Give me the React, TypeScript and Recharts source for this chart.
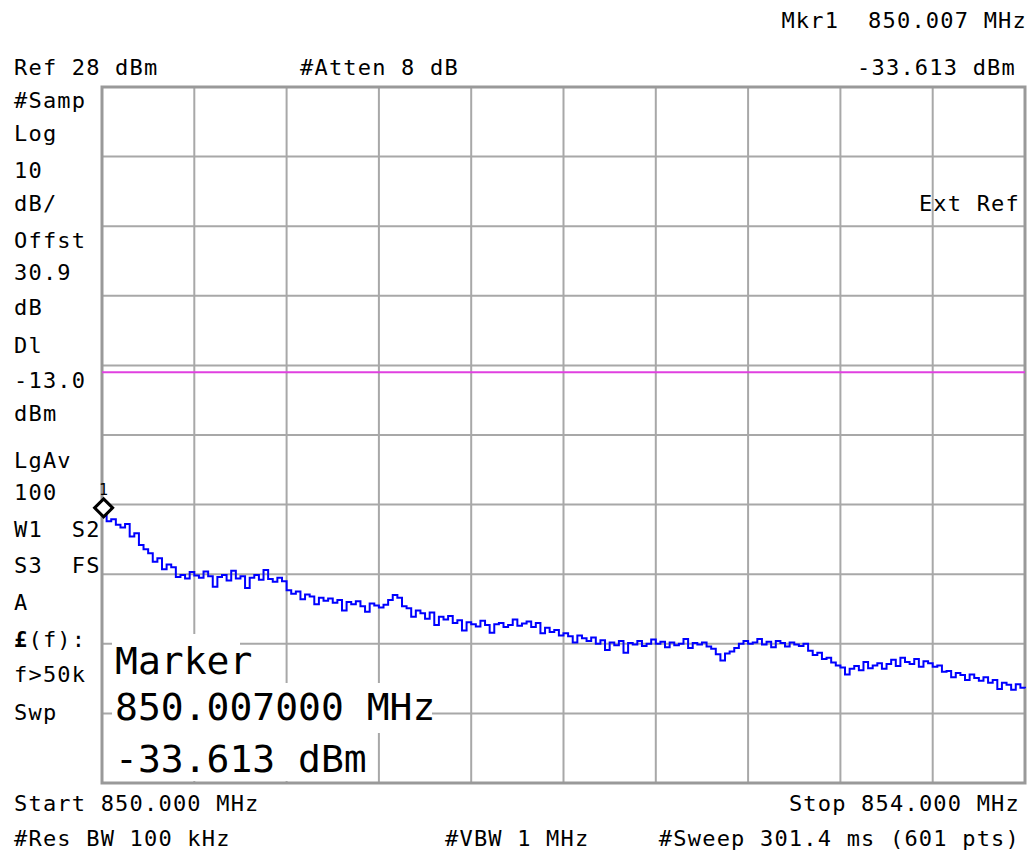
import React from "react";
import {
  LineChart,
  Line,
  XAxis,
  YAxis,
  CartesianGrid,
  ReferenceLine,
  ReferenceArea,
  ReferenceDot,
} from "recharts";

// sweep 850 -> 854 MHz, one reading every 20 kHz (dBm)
const START_MHZ = 850;
const STEP_MHZ = 0.02;
const levels = [
  -33.6, -34.4, -34.1, -34.9, -35.3, -34.8, -36.6, -36.1, -37.8, -38.4,
  -39.0, -40.2, -39.7, -41.3, -40.6, -41.0, -42.4, -42.1, -42.6, -41.7,
  -42.2, -42.5, -41.6, -42.3, -43.8, -42.4, -42.1, -42.9, -41.5, -42.6,
  -42.3, -44.0, -42.5, -42.1, -42.8, -41.4, -42.7, -43.1, -42.5, -43.0,
  -44.3, -44.8, -44.5, -45.6, -44.9, -45.2, -46.3, -45.4, -45.8, -45.5,
  -46.1, -45.7, -47.2, -46.0, -46.3, -45.9, -46.6, -47.4, -46.2, -46.5,
  -46.8, -46.4, -45.7, -45.0, -45.4, -46.6, -46.9, -48.1, -47.2, -47.6,
  -48.4, -47.5, -49.3, -48.1, -48.5, -48.0, -49.0, -48.6, -50.1, -48.9,
  -49.2, -49.5, -48.7, -49.3, -50.4, -49.2, -49.0, -49.6, -49.3, -48.5,
  -49.4, -49.1, -48.8, -49.6, -49.0, -50.5, -49.7, -50.3, -50.0, -50.8,
  -50.5, -50.9, -51.8, -50.8, -51.2, -51.6, -51.1, -52.0, -51.5, -52.9,
  -51.8, -52.2, -51.6, -53.3, -51.9, -52.1, -51.6, -52.3, -52.0, -51.4,
  -52.0, -51.7, -52.5, -51.8, -52.2, -52.0, -51.3, -52.6, -51.9, -52.1,
  -51.8, -52.4, -52.7, -53.5, -54.4, -53.4, -53.1, -52.6, -52.0, -51.6,
  -52.0, -51.8, -51.3, -52.1, -51.7, -52.5, -51.6, -51.9, -52.4, -51.8,
  -52.1, -52.3, -52.0, -53.0, -53.6, -53.3, -54.2, -54.0, -54.7, -55.1,
  -55.4, -56.4, -55.6, -55.2, -55.8, -54.6, -55.5, -55.1, -54.8, -55.6,
  -54.9, -54.3, -55.2, -54.0, -54.6, -54.9, -54.2, -55.3, -54.5, -54.8,
  -55.3, -55.1, -56.0, -55.9, -56.8, -56.2, -56.5, -57.2, -56.4, -56.9,
  -57.3, -56.8, -57.6, -57.2, -58.5, -57.6, -57.9, -58.6, -57.8, -58.3,
  -58.4,
];

const freqTicks = [850, 850.4, 850.8, 851.2, 851.6, 852, 852.4, 852.8, 853.2, 853.6, 854];
const levelTicks = [28, 18, 8, -2, -12, -22, -32, -42, -52, -62, -72];

const refLevel = 28;
const bottomLevel = -72;
const displayLine = -13;
const markerFreq = 850.007;
const markerLevel = -33.613;

const leftLabels = [
  "#Samp", "Log", "10", "dB/", "Offst", "30.9", "dB", "Dl", "-13.0", "dBm",
  "LgAv", "100", "W1  S2", "S3  FS", "A", "£(f):", "f>50k", "Swp",
];
const leftBaselines = [108, 141, 178, 211, 248, 280, 315, 353, 388, 421, 468, 500, 537, 573, 610, 647, 682, 720];

const data = levels.map((dbm, i) => ({ freq: START_MHZ + i * STEP_MHZ, dbm }));

const mono = "'DejaVu Sans Mono', 'Liberation Mono', monospace";

function Diamond(props: any) {
  const { cx, cy } = props;
  const y = cy - 8;
  return (
    <g>
      <path
        d={`M${cx},${y - 9} L${cx + 9},${y} L${cx},${y + 9} L${cx - 9},${y} Z`}
        fill="#fff"
        stroke="#000"
        strokeWidth={3}
      />
      <text x={cx} y={y - 13} textAnchor="middle" fontFamily={mono} fontSize={15}>
        1
      </text>
    </g>
  );
}

export default function App() {
  const small = {
    fontFamily: mono,
    fontSize: 22,
    letterSpacing: 1.2,
    fill: "#000",
    style: { whiteSpace: "pre" },
  } as any;
  const big = { fontFamily: mono, fontSize: 38, fill: "#000" } as any;
  return (
    <div style={{ position: "absolute", left: 0, top: 0, width: 1034, height: 856, background: "#fff" }}>
      <LineChart
        width={1034}
        height={856}
        data={data}
        margin={{ top: 87, right: 9, bottom: 73, left: 102 }}
      >
        <XAxis dataKey="freq" type="number" domain={[850, 854]} ticks={freqTicks} hide />
        <YAxis type="number" domain={[bottomLevel, refLevel]} ticks={levelTicks} hide />
        <CartesianGrid stroke="#a8a8a8" strokeWidth={2} />
        <ReferenceArea
          x1={850}
          x2={854}
          y1={bottomLevel}
          y2={refLevel}
          fill="none"
          stroke="#999"
          strokeWidth={3}
          fillOpacity={0}
        />
        <ReferenceLine y={displayLine} stroke="#e040e0" strokeWidth={2} />
        <Line
          type="stepAfter"
          dataKey="dbm"
          stroke="#0000ff"
          strokeWidth={2}
          dot={false}
          isAnimationActive={false}
        />
        <ReferenceDot x={markerFreq} y={markerLevel} shape={Diamond} ifOverflow="visible" />
      </LineChart>
      <svg
        width={1034}
        height={856}
        style={{ position: "absolute", left: 0, top: 0, pointerEvents: "none" }}
      >
        <text x={1027} y={28} textAnchor="end" {...small}>Mkr1  850.007 MHz</text>
        <text x={1016} y={75} textAnchor="end" {...small}>-33.613 dBm</text>
        <text x={14} y={75} {...small}>Ref 28 dBm</text>
        <text x={300} y={75} {...small}>#Atten 8 dB</text>
        {leftLabels.map((t, i) =>
          t.startsWith("£") ? (
            <text key={t} x={14} y={leftBaselines[i]} {...small}>
              <tspan fontWeight="bold">£</tspan>
              {t.slice(1)}
            </text>
          ) : (
            <text key={t} x={14} y={leftBaselines[i]} {...small}>
              {t}
            </text>
          )
        )}
        <text x={1020} y={211} textAnchor="end" {...small}>Ext Ref</text>

        <rect x={112} y={634} width={128} height={49} fill="#fff" />
        <rect x={112} y={683} width={320} height={50} fill="#fff" />
        <rect x={112} y={733} width={265} height={48} fill="#fff" />
        <text x={115} y={674} {...big}>Marker</text>
        <text x={115} y={720} {...big}>850.007000 MHz</text>
        <text x={115} y={772} {...big}>-33.613 dBm</text>

        <text x={14} y={811} {...small}>Start 850.000 MHz</text>
        <text x={1020} y={811} textAnchor="end" {...small}>Stop 854.000 MHz</text>
        <text x={14} y={846} {...small}>#Res BW 100 kHz</text>
        <text x={445} y={846} {...small}>#VBW 1 MHz</text>
        <text x={1020} y={846} textAnchor="end" {...small}>#Sweep 301.4 ms (601 pts)</text>
      </svg>
    </div>
  );
}
